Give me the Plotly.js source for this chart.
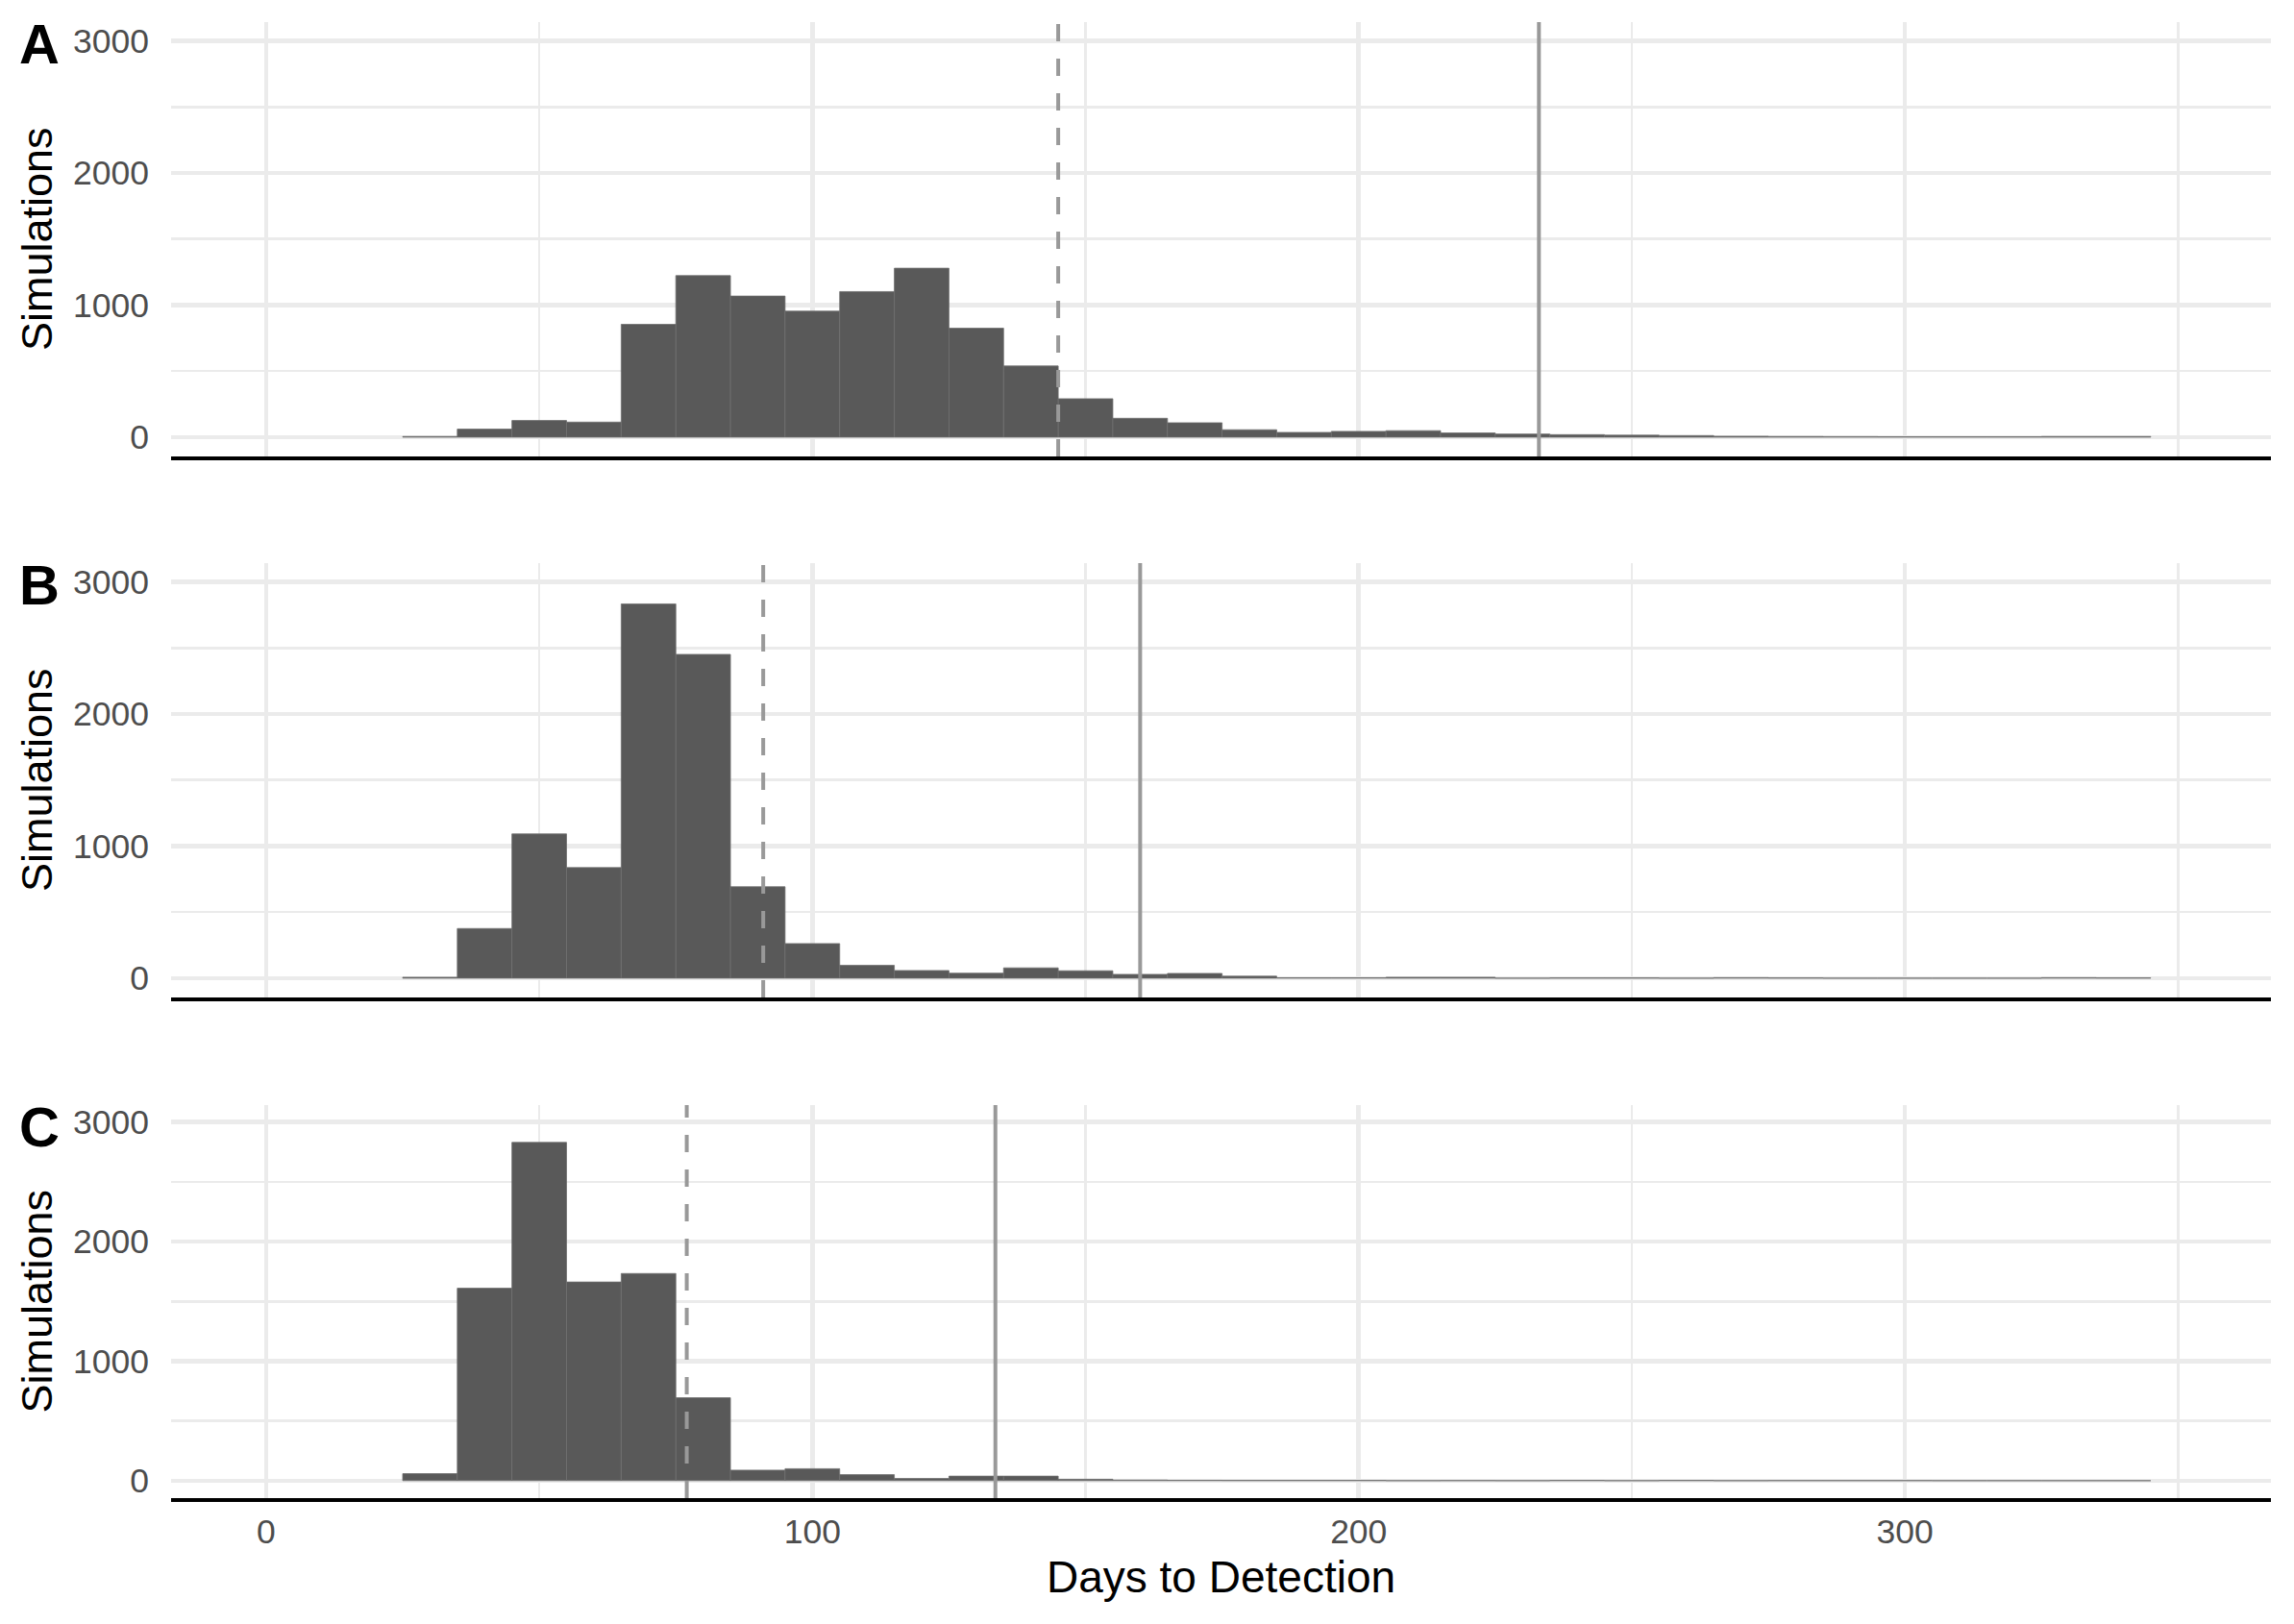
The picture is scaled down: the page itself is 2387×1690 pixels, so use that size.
<!DOCTYPE html>
<html>
<head>
<meta charset="utf-8">
<script src="https://cdn.plot.ly/plotly-3.0.1.min.js"></script>
<style>html,body{margin:0;padding:0;background:#fff;}#chart{width:2387px;height:1690px;}</style>
</head>
<body>
<div id="chart"></div>
<script>
// Histogram bins (10-day width), bin centres in days
const binCenters = [30,40,50,60,70,80,90,100,110,120,130,140,150,160,170,180,190,200,210,220,230,240,250,260,270,280,290,300,310,320,330,340];
const countsA = [5,61,126,114,854,1223,1068,954,1102,1279,825,539,291,143,109,56,36,44,49,32,24,19,15,12,7,5,4,3,3,3,5,5];
const countsB = [7,376,1092,837,2833,2451,692,262,97,58,38,78,56,29,36,15,3,3,7,7,0,2,2,0,4,2,0,0,0,0,4,2];
const countsC = [59,1610,2830,1662,1733,694,88,100,50,18,38,38,12,5,3,2,2,2,0,1,0,2,0,2,0,1,1,1,0,0,0,0];
const panelLabels = ["A","B","C"];
const dashedLines = [145, 91, 77];     // dashed reference line per panel
const solidLines = [233, 160, 133.5];  // solid reference line per panel
const xTickVals = [0,100,200,300];
const yTickVals = [0,1000,2000,3000];
const xTitle = "Days to Detection";
const yTitle = "Simulations";

const W = 2387, H = 1690;
const xDom = [178/W, 2363/W];
const panelPx = [[23,475],[586,1038],[1150,1559]];
const yDoms = panelPx.map(p => [1 - p[1]/H, 1 - p[0]/H]);
const xRange = [-17.4, 367];
const yRange = [-146, 3142];
const fontFam = "Liberation Sans, Arial, Helvetica, sans-serif";

const allCounts = [countsA, countsB, countsC];
const traces = allCounts.map((c, i) => ({
  type: "bar",
  x: binCenters,
  y: c,
  width: 10,
  marker: {color: "#595959", line: {color: "#6e6e6e", width: 0.8}},
  xaxis: i === 0 ? "x" : "x" + (i+1),
  yaxis: i === 0 ? "y" : "y" + (i+1),
  hoverinfo: "x+y",
  showlegend: false
}));

const layout = {
  width: W, height: H,
  margin: {l:0, r:0, t:0, b:0},
  paper_bgcolor: "#ffffff",
  plot_bgcolor: "#ffffff",
  bargap: 0,
  font: {family: fontFam, color: "#4d4d4d"},
  shapes: [],
  annotations: []
};

for (let i = 0; i < 3; i++) {
  const xs = i === 0 ? "" : String(i+1);
  layout["xaxis" + xs] = {
    domain: xDom,
    anchor: "y" + xs,
    range: xRange,
    tickmode: "array",
    tickvals: xTickVals,
    ticktext: xTickVals.map(String),
    showticklabels: i === 2,
    tickfont: {size: 35.5, color: "#4d4d4d", family: fontFam},
    ticks: "",
    showgrid: true,
    gridcolor: "#ebebeb",
    gridwidth: 4.5,
    minor: {dtick: 50, tick0: 0, showgrid: true, gridcolor: "#ebebeb", gridwidth: 2.5},
    zeroline: false,
    showline: true,
    linecolor: "#000000",
    linewidth: 4,
    mirror: false,
    fixedrange: true
  };
  layout["yaxis" + xs] = {
    domain: yDoms[i],
    anchor: "x" + xs,
    range: yRange,
    tickmode: "array",
    tickvals: yTickVals,
    ticktext: yTickVals.map(String),
    tickfont: {size: 35.5, color: "#4d4d4d", family: fontFam},
    ticks: "",
    ticklabelstandoff: 22,
    showgrid: true,
    gridcolor: "#ebebeb",
    gridwidth: 4.5,
    minor: {dtick: 500, tick0: 0, showgrid: true, gridcolor: "#ebebeb", gridwidth: 2.5},
    zeroline: false,
    showline: false,
    fixedrange: true
  };
  layout.shapes.push({
    type: "line", xref: "x" + xs, yref: "y" + xs + " domain",
    x0: dashedLines[i], x1: dashedLines[i], y0: 0, y1: 1,
    line: {color: "#999999", width: 4, dash: "18px,18px"}
  });
  layout.shapes.push({
    type: "line", xref: "x" + xs, yref: "y" + xs + " domain",
    x0: solidLines[i], x1: solidLines[i], y0: 0, y1: 1,
    line: {color: "#999999", width: 4}
  });
  const midY = (yDoms[i][0] + yDoms[i][1]) / 2;
  layout.annotations.push({
    text: yTitle, xref: "paper", yref: "paper",
    x: 38/W, y: midY, xanchor: "center", yanchor: "middle",
    textangle: -90, showarrow: false,
    font: {size: 45, color: "#000000", family: fontFam}
  });
  layout.annotations.push({
    text: "<b>" + panelLabels[i] + "</b>", xref: "paper", yref: "paper",
    x: 18/W, y: 1 - (panelPx[i][0] - 12)/H, xanchor: "left", yanchor: "top",
    showarrow: false,
    font: {size: 58, color: "#000000", family: fontFam}
  });
}
layout.annotations.push({
  text: xTitle, xref: "paper", yref: "paper",
  x: (xDom[0] + xDom[1]) / 2, y: 1 - 1641/H, xanchor: "center", yanchor: "middle",
  showarrow: false,
  font: {size: 46, color: "#000000", family: fontFam}
});

Plotly.newPlot("chart", traces, layout, {displayModeBar: false, staticPlot: true});
</script>
</body>
</html>
